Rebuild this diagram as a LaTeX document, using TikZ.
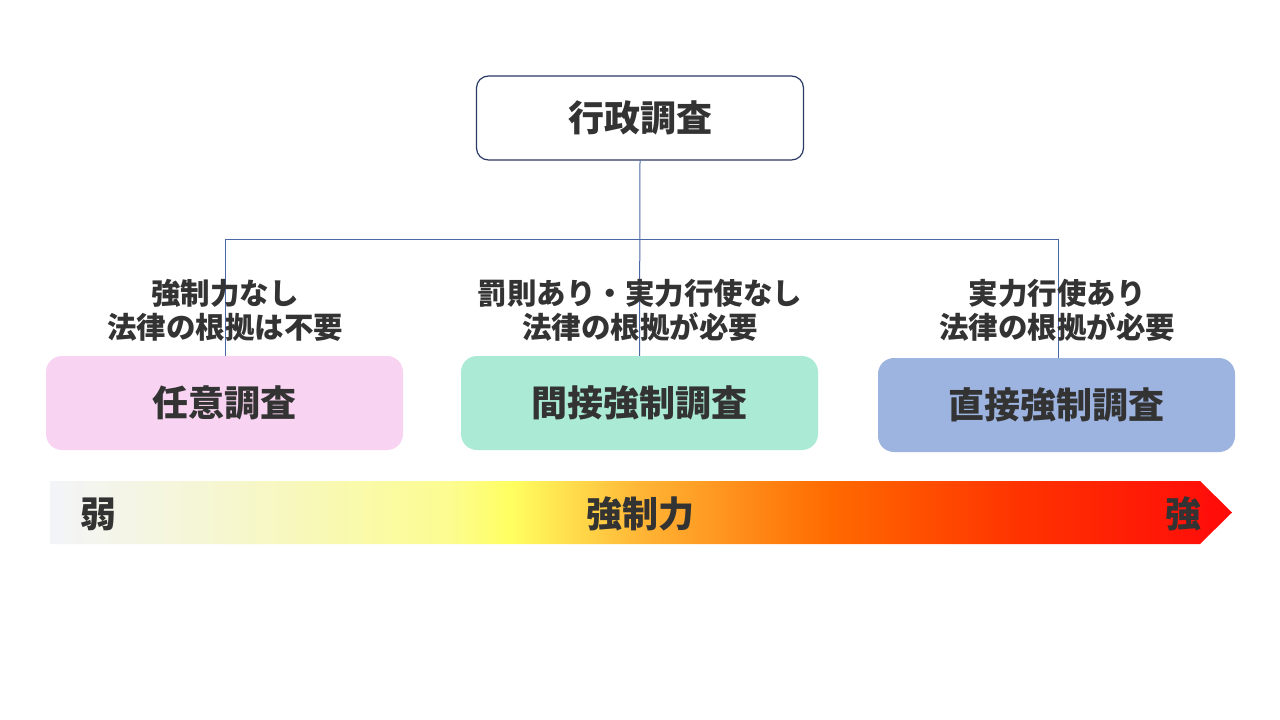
\documentclass[tikz,border=0pt]{standalone}
\usepackage{fontspec}
\setmainfont{Noto Sans CJK JP}
\usetikzlibrary{positioning}
\definecolor{txt}{HTML}{333333}
\definecolor{navy}{HTML}{2B3A67}
\definecolor{linec}{HTML}{4A68A8}
\definecolor{pinkbox}{HTML}{F9D4F2}
\definecolor{mintbox}{HTML}{ABEBD5}
\definecolor{bluebox}{HTML}{9EB4E0}
\definecolor{g0}{HTML}{F3F4F8}
\definecolor{g1}{HTML}{F6F7CC}
\definecolor{g2}{HTML}{FCFC90}
\definecolor{g3}{HTML}{FFFF60}
\definecolor{g4}{HTML}{FFB535}
\definecolor{g5}{HTML}{FF6A00}
\definecolor{g6}{HTML}{FF3300}
\definecolor{g7}{HTML}{FF0A0A}
% path bbox maps to 25bp..75bp
\pgfdeclarehorizontalshading{forceshade}{100bp}{%
 color(0bp)=(g0); color(25bp)=(g0); color(33bp)=(g1); color(42bp)=(g2);
 color(44.5bp)=(g3); color(50bp)=(g4); color(58bp)=(g5); color(66bp)=(g6);
 color(75bp)=(g7); color(100bp)=(g7)}
\tikzset{
  topbox/.style={draw=navy, line width=1.2pt, rounded corners=12pt, fill=white,
    minimum width=327pt, minimum height=84pt, text=txt,
    font=\fontsize{36}{40}\selectfont\bfseries},
  catbox/.style={rounded corners=16pt, minimum width=357pt, minimum height=94pt},
  cattxt/.style={text=txt, font=\fontsize{36}{40}\selectfont\bfseries},
  lbl/.style={text=txt, align=center, font=\fontsize{29.5}{34}\selectfont\bfseries},
  bartxt/.style={text=txt, font=\fontsize{36}{40}\selectfont\bfseries},
  conn/.style={draw=linec, line width=1pt}
}
\begin{document}
\begin{tikzpicture}[x=1pt,y=-1pt]
\useasboundingbox (0,0) rectangle (1280,720);
\fill[white] (0,0) rectangle (1280,720);

\node[topbox] (top) at (640,118) {行政調査};
\node[catbox, fill=pinkbox] (b1) at (224.5,403) {};
\node[catbox, fill=mintbox] (b2) at (639.5,403) {};
\node[catbox, fill=bluebox] (b3) at (1056.5,405) {};

\coordinate (hl) at (225,239);
\coordinate (hr) at (1058.5,239);
\draw[conn] (top.south) -- (b2.north);
\draw[conn] (hl) -- (hr);
\draw[conn] (hl) -- (hl |- b1.north);
\draw[conn] (hr) -- (hr |- b3.north);

\node[cattxt] (t1) at (b1) {任意調査};
\node[cattxt] (t2) at (b2) {間接強制調査};
\node[cattxt] (t3) at (b3) {直接強制調査};

\node[lbl] (l1) at (225,310) {強制力なし\\法律の根拠は不要};
\node[lbl] (l2) at (640,310) {罰則あり・実力行使なし\\法律の根拠が必要};
\node[lbl] (l3) at (1057,310) {実力行使あり\\法律の根拠が必要};

% gradient arrow
\shade[shading=forceshade] (50,481) -- (1200,481) -- (1232,512.5) -- (1200,544) -- (50,544) -- cycle;
\node[bartxt] (weak) at (98,514) {弱};
\node[bartxt] (mid) at (640,514) {強制力};
\node[bartxt] (strong) at (1183,514) {強};
\end{tikzpicture}
\end{document}
